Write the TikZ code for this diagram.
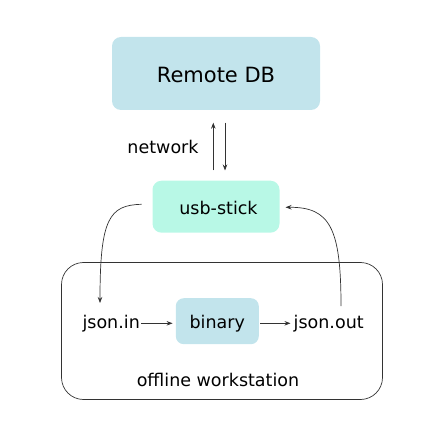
\documentclass[tikz,border=0pt]{standalone}
\usepackage{fontspec}
\setmainfont{DejaVu Sans}
\usetikzlibrary{arrows.meta}
\definecolor{dbblue}{HTML}{C2E4EC}
\definecolor{usbmint}{HTML}{B8F8E6}
\definecolor{linegray}{HTML}{333333}
\tikzset{
  boxstyle/.style={rounded corners=9pt, draw=none, inner sep=0pt, text=black},
  lbl/.style={inner sep=0pt, text=black, anchor=base, font=\fontsize{17.5}{20}\selectfont},
  arr/.style={draw=linegray, line width=0.7pt, -{Stealth[length=6pt,width=4.5pt]}},
}
\begin{document}
\begin{tikzpicture}[x=1pt,y=-1pt]
\useasboundingbox (0,0) rectangle (433,430);
% workstation
\node[draw=linegray, line width=0.7pt, rounded corners=22pt, minimum width=321pt, minimum height=137pt, inner sep=0pt] (ws) at (222,331) {};
\node[lbl] (wslabel) at (218,386.5) {offline workstation};
% remote db
\node[boxstyle, fill=dbblue, minimum width=208pt, minimum height=73pt] (db) at (216,73.5) {};
\node[inner sep=0pt, anchor=base, text=black, font=\fontsize{21}{24}\selectfont] (dbl) at (db.center |- 0,82.3) {Remote DB};
% usb
\node[boxstyle, fill=usbmint, minimum width=127pt, minimum height=52pt] (usb) at (216,206.7) {};
\node[lbl] (usbl) at (218.5,214.3) {usb-stick};
% binary
\node[boxstyle, fill=dbblue, minimum width=83pt, minimum height=46pt, rounded corners=8pt] (bin) at (217.3,321.2) {};
\node[lbl] (binl) at (217.3,328.3) {binary};
% labels
\node[lbl] (jin) at (111.2,328.3) {json.in};
\node[lbl] (jout) at (328.7,328.3) {json.out};
\node[lbl] (net) at (163,153.5) {network};
% network arrows
\coordinate (nu) at (213.3,0);
\coordinate (nd) at (225,0);
\draw[arr] ([yshift=10pt]usb.north -| nu) -- ([yshift=-12.5pt]db.south -| nu);
\draw[arr] ([yshift=-12.5pt]db.south -| nd) -- ([yshift=10pt]usb.north -| nd);
% in/out arrows
\coordinate (ay) at (0,323.3);
\draw[arr] ([xshift=1pt]jin.east |- ay) -- ([xshift=-3pt]bin.west |- ay);
\draw[arr] ([xshift=1pt]bin.east |- ay) -- ([xshift=-3pt]jout.west |- ay);
% curves
\coordinate (c1s) at (141.7,204.3);
\coordinate (c1e) at (100,303);
\draw[arr] (c1s) .. controls (109,205) and (100,219) .. (c1e);
\coordinate (c2s) at (341,306);
\coordinate (c2e) at (285.5,207.3);
\draw[arr] (c2s) .. controls (341,228) and (330,207) .. (c2e);
\end{tikzpicture}
\end{document}
